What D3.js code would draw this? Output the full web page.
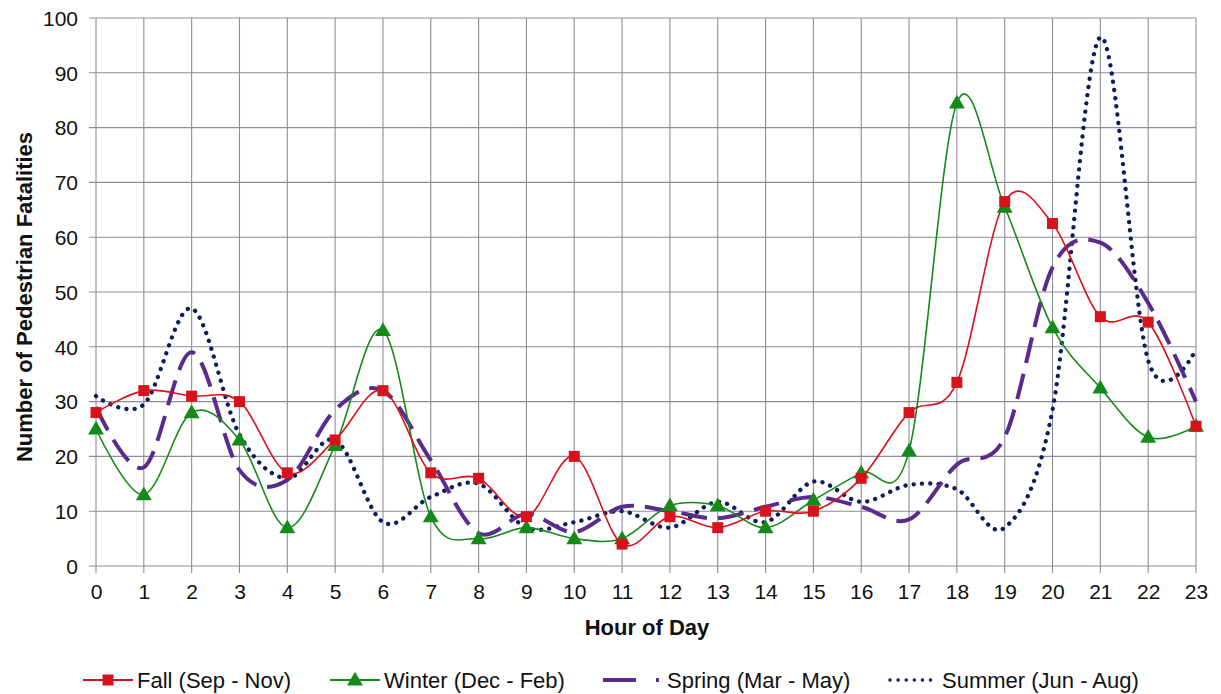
<!DOCTYPE html>
<html>
<head>
<meta charset="utf-8">
<script src="https://cdn.jsdelivr.net/npm/d3@7"></script>
<style>
  html, body { margin: 0; padding: 0; background: #ffffff; }
  svg { display: block; }
  text { font-family: "Liberation Sans", Arial, sans-serif; fill: #111; }
</style>
</head>
<body>
<svg id="chart" width="1221" height="694"></svg>
<script>
// Hour of day (0-23)
const hours = d3.range(0, 24);
const yTicks = [0, 10, 20, 30, 40, 50, 60, 70, 80, 90, 100];

// Pedestrian fatalities by hour, per season
const fall   = [28, 32, 31, 30, 17, 23, 32, 17, 16, 9, 20, 4, 9, 7, 10, 10, 16, 28, 33.5, 66.5, 62.5, 45.5, 44.5, 25.5];
const winter = [25, 13, 28, 23, 7, 22, 43, 9, 5, 7, 5, 5, 11, 11, 7, 12, 17, 21, 84.5, 65.5, 43.5, 32.5, 23.5, 25.5];
const spring = [29, 18, 39, 17.5, 15.7, 28.5, 32, 19.3, 6, 9.5, 6.2, 10.8, 10, 8.7, 10.8, 12.6, 10.8, 8.5, 18.5, 23.5, 54.5, 59, 48, 30];
const summer = [31, 29.5, 47, 24, 16, 23, 8, 12.6, 15, 7, 8, 10, 7, 11.7, 8, 15.4, 11.7, 14.8, 14, 7, 28.5, 96.5, 37.5, 39.5];

const seriesNames = ["Fall (Sep - Nov)", "Winter (Dec - Feb)", "Spring (Mar - May)", "Summer (Jun - Aug)"];

const series = [
  { name: seriesNames[0], values: fall,   color: "#d8121b", width: 1.6, dash: null, marker: "square" },
  { name: seriesNames[1], values: winter, color: "#158a1a", width: 1.6, dash: null, marker: "triangle" },
  { name: seriesNames[2], values: spring, color: "#5a2a8c", width: 4,   dash: "26,11", marker: null },
  { name: seriesNames[3], values: summer, color: "#0b1d5a", width: 4.3, dash: "0.1,8.2", marker: null, cap: "round" }
];

const svg = d3.select("#chart");
const margin = { left: 96, right: 25, top: 18, bottom: 128 };
const W = 1221, H = 694;
const plotW = W - margin.left - margin.right;
const plotH = H - margin.top - margin.bottom;

const x = d3.scaleLinear().domain([0, 23]).range([margin.left, margin.left + plotW]);
const y = d3.scaleLinear().domain([0, 100]).range([margin.top + plotH, margin.top]);

const gridColor = "#8d8d9a";

// Gridlines
const grid = svg.append("g");
grid.selectAll(".hg").data(yTicks).join("line")
  .attr("x1", x(0) - 7).attr("x2", x(23))
  .attr("y1", d => y(d)).attr("y2", d => y(d))
  .attr("stroke", gridColor).attr("stroke-width", 1.1);
grid.selectAll(".vg").data(hours).join("line")
  .attr("x1", d => x(d)).attr("x2", d => x(d))
  .attr("y1", y(100)).attr("y2", y(0) + 7)
  .attr("stroke", gridColor).attr("stroke-width", 1.1);

// Axes (labels only; lines come from the grid)
const yAxis = d3.axisLeft(y).tickValues(yTicks).tickSize(0).tickPadding(18);
const gy = svg.append("g").attr("transform", `translate(${x(0)},0)`).call(yAxis);
gy.select(".domain").remove();
gy.selectAll("text").attr("font-size", 21).attr("fill", "#111").attr("dy", "0.35em")
  .style("font-family", "'Liberation Sans', Arial, sans-serif");

const xAxis = d3.axisBottom(x).tickValues(hours).tickSize(0).tickPadding(18).tickFormat(d3.format("d"));
const gx = svg.append("g").attr("transform", `translate(0,${y(0)})`).call(xAxis);
gx.select(".domain").remove();
gx.selectAll("text").attr("font-size", 21).attr("fill", "#111")
  .style("font-family", "'Liberation Sans', Arial, sans-serif");

// Axis titles
svg.append("text")
  .attr("x", x(11.5) + 1).attr("y", 635)
  .attr("text-anchor", "middle")
  .attr("font-size", 22).attr("font-weight", "bold")
  .text("Hour of Day");

svg.append("text")
  .attr("transform", `translate(32,${y(50) + 5}) rotate(-90)`)
  .attr("text-anchor", "middle")
  .attr("font-size", 22).attr("font-weight", "bold")
  .text("Number of Pedestrian Fatalities");

// Smoothed lines
const line = d3.line()
  .x((d, i) => x(hours[i]))
  .y(d => y(d))
  .curve(d3.curveCardinal.tension(0));

const drawOrder = [series[3], series[2], series[1], series[0]];
drawOrder.forEach(s => {
  svg.append("path")
    .datum(s.values)
    .attr("d", line)
    .attr("fill", "none")
    .attr("stroke", s.color)
    .attr("stroke-width", s.width)
    .attr("stroke-dasharray", s.dash)
    .attr("stroke-linecap", s.cap || "butt");
});

// Markers
const tri = d3.symbol().type(d3.symbolTriangle).size(110);
function drawMarker(g, type, cx, cy, color) {
  if (type === "square") {
    g.append("rect").attr("x", cx - 5.5).attr("y", cy - 5.5)
      .attr("width", 11).attr("height", 11).attr("fill", color);
  } else if (type === "triangle") {
    g.append("path").attr("d", tri).attr("transform", `translate(${cx},${cy + 1})`)
      .attr("fill", color);
  }
}
[series[1], series[0]].forEach(s => {
  const g = svg.append("g");
  s.values.forEach((v, i) => drawMarker(g, s.marker, x(hours[i]), y(v), s.color));
});

// Legend
const legendY = 680;
const legendX = [83, 330, 603, 888];
series.forEach((s, i) => {
  const g = svg.append("g").attr("transform", `translate(${legendX[i]},${legendY})`);
  if (s.marker) {
    g.append("line").attr("x1", 0).attr("x2", 50).attr("y1", 0).attr("y2", 0)
      .attr("stroke", s.color).attr("stroke-width", 2);
    drawMarker(g, s.marker, 25, 0, s.color);
  } else if (i === 2) {
    g.append("line").attr("x1", 0).attr("x2", 56).attr("y1", 0).attr("y2", 0)
      .attr("stroke", s.color).attr("stroke-width", s.width).attr("stroke-dasharray", "33,20");
  } else {
    g.append("line").attr("x1", 2).attr("x2", 48).attr("y1", 0).attr("y2", 0)
      .attr("stroke", s.color).attr("stroke-width", 3.4)
      .attr("stroke-dasharray", "0.1,8").attr("stroke-linecap", "round");
  }
  g.append("text").attr("x", i === 2 ? 64 : 54).attr("y", 0).attr("dy", "0.35em")
    .attr("font-size", 22).text(s.name);
});
</script>
</body>
</html>
